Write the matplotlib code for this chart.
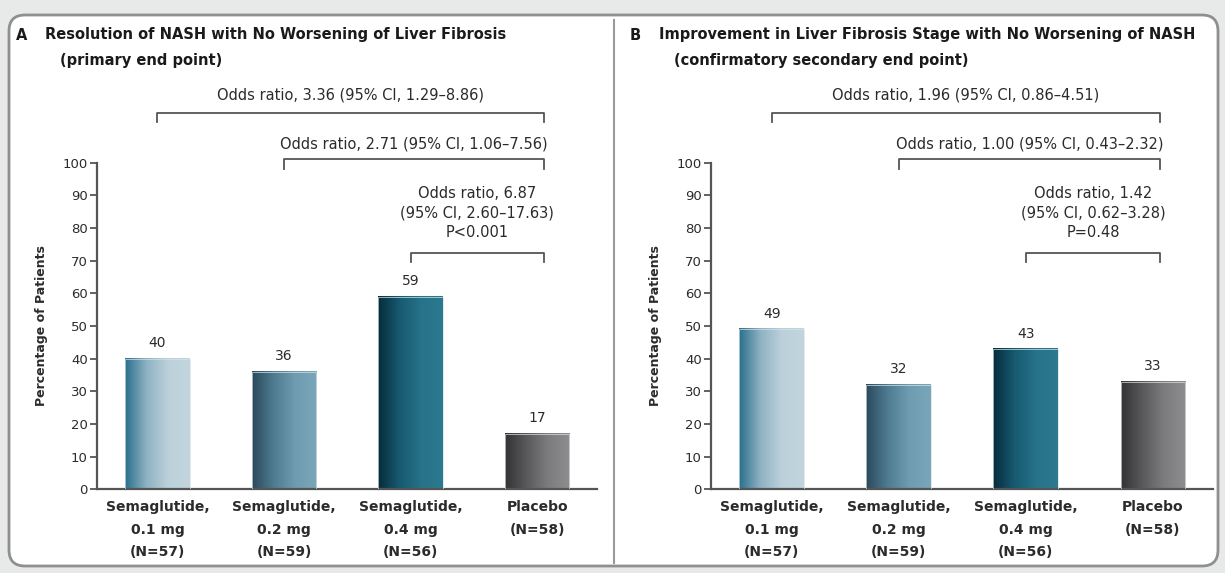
import numpy as np
import matplotlib.pyplot as plt
import matplotlib.patches as mpatches
from matplotlib.colors import LinearSegmentedColormap

plt.rcParams['font.family'] = ['DejaVu Sans']

# data
groups = ['Semaglutide,\n0.1 mg\n(N=57)', 'Semaglutide,\n0.2 mg\n(N=59)',
          'Semaglutide,\n0.4 mg\n(N=56)', 'Placebo\n(N=58)']
nash_resolution = [40, 36, 59, 17]
fibrosis_improvement = [49, 32, 43, 33]
yticks = [0, 10, 20, 30, 40, 50, 60, 70, 80, 90, 100]

odds_a = ['Odds ratio, 3.36 (95% CI, 1.29–8.86)',
          'Odds ratio, 2.71 (95% CI, 1.06–7.56)',
          'Odds ratio, 6.87\n(95% CI, 2.60–17.63)\nP<0.001']
odds_b = ['Odds ratio, 1.96 (95% CI, 0.86–4.51)',
          'Odds ratio, 1.00 (95% CI, 0.43–2.32)',
          'Odds ratio, 1.42\n(95% CI, 0.62–3.28)\nP=0.48']
comparisons = [(0, 3), (1, 3), (2, 3)]

title_a = ('A', 'Resolution of NASH with No Worsening of Liver Fibrosis', '(primary end point)')
title_b = ('B', 'Improvement in Liver Fibrosis Stage with No Worsening of NASH',
           '(confirmatory secondary end point)')

bar_colors = [
    ['#2a6f8d', '#8fb2c3', '#bcd1db', '#c2d5de'],
    ['#2b4a5c', '#4f7b90', '#6f9cb0', '#7aa6b9'],
    ['#062c3b', '#175a71', '#277389', '#2c7a90'],
    ['#333335', '#5a5a5c', '#7c7c7e', '#8e8e90'],
]

W, H = 1225, 573
fig = plt.figure(figsize=(W / 100, H / 100), dpi=100)
fig.patch.set_facecolor('#e8e9e9')

box = mpatches.FancyBboxPatch((9, 7), 1209, 551, boxstyle='round,pad=0,rounding_size=16',
                              transform=None, facecolor='white', edgecolor='#8f8f8f',
                              linewidth=2, zorder=-10)
fig.add_artist(box)
fig.add_artist(plt.Line2D([614 / W, 614 / W], [1 - 20 / H, 1 - 563 / H],
                          transform=fig.transFigure, color='#9a9a9a', linewidth=1.5, zorder=-9))

line_col = '#555555'
text_col = '#2b2b2b'


def draw_panel(rect, values, odds, title, title_x):
    ax = fig.add_axes(rect)
    ax.patch.set_alpha(0)
    x = np.arange(len(values))
    bars = ax.bar(x, values, width=0.51, color='none', edgecolor='#d8e2e6', linewidth=0.5, zorder=3)
    for i, p in enumerate(bars.patches):
        cmap = LinearSegmentedColormap.from_list('g%d' % i, bar_colors[i])
        grad = np.linspace(0, 1, 256).reshape(1, -1)
        ax.imshow(grad, extent=[p.get_x(), p.get_x() + p.get_width(), 0, p.get_height()],
                  aspect='auto', cmap=cmap, zorder=2)
        ax.annotate(str(values[i]), (p.get_x() + p.get_width() / 2, p.get_height()),
                    xytext=(0, 6), textcoords='offset points', ha='center', va='bottom',
                    fontsize=10, color=text_col)
    ax.set_xlim(-0.48, 3.47)
    ax.set_ylim(0, 100)
    ax.set_aspect('auto')
    for s in ['top', 'right']:
        ax.spines[s].set_visible(False)
    ax.spines['left'].set_color(line_col)
    ax.spines['bottom'].set_color(line_col)
    ax.spines['left'].set_linewidth(1.6)
    ax.spines['bottom'].set_linewidth(1.6)
    ax.spines['left'].set_zorder(4)
    ax.set_yticks(yticks)
    ax.tick_params(axis='y', length=5, width=1.3, color=line_col, pad=1.5, labelsize=9.5,
                   labelcolor=text_col)
    ax.set_xticks(x)
    ax.set_xticklabels(groups, fontsize=10, fontweight='bold', color=text_col, linespacing=1.75)
    ax.tick_params(axis='x', length=0, pad=8)
    ax.set_ylabel('Percentage of Patients', fontsize=9, fontweight='bold', color=text_col)
    ax.yaxis.set_label_coords(-0.097, 0.5)

    # brackets
    levels = [(115.2, 120.7), (101.0, 105.6), (72.4, 84.6)]
    for (a, b), (yb, yt), txt in zip(comparisons, levels, odds):
        x0, x1 = x[a], x[b] + 0.055
        ax.plot([x0, x0, x1, x1], [yb - 2.8, yb, yb, yb - 2.8], color=line_col,
                linewidth=1.3, clip_on=False)
        ax.text((x0 + x1) / 2, yt, txt, ha='center', va='center', fontsize=10.5,
                color=text_col, linespacing=1.4, clip_on=False)

    fig.text(title_x / W, 1 - 35 / H, title[0], fontsize=10.5, fontweight='bold',
             color='#1a1a1a', va='center')
    fig.text((title_x + 29) / W, 1 - 35 / H, title[1], fontsize=10.5, fontweight='bold',
             color='#1a1a1a', va='center')
    fig.text((title_x + 44) / W, 1 - 60 / H, title[2], fontsize=10.5, fontweight='bold',
             color='#1a1a1a', va='center')
    return ax


bottom = (H - 489.3) / H
height = 326.6 / H
draw_panel([96.7 / W, bottom, 500 / W, height], nash_resolution, odds_a, title_a, 16)
draw_panel([710.7 / W, bottom, 502 / W, height], fibrosis_improvement, odds_b, title_b, 630)

fig.savefig('out.png', dpi=100, facecolor=fig.get_facecolor())
